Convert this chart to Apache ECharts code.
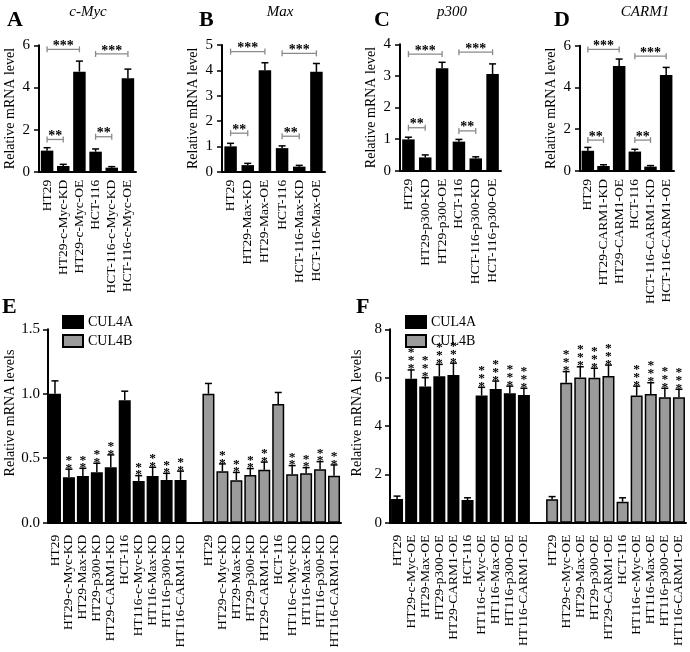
<!DOCTYPE html>
<html><head><meta charset="utf-8">
<script src="https://cdn.jsdelivr.net/npm/echarts@6/dist/echarts.min.js"></script>
<style>html,body{margin:0;padding:0;background:#fff}#c{width:690px;height:652px}</style>
</head><body><div id="c"></div>
<script>
const FONT = '"Liberation Serif","Times New Roman",serif';

// Panel A: c-Myc
const catA = ['HT29','HT29-c-Myc-KD','HT29-c-Myc-OE','HCT-116','HCT-116-c-Myc-KD','HCT-116-c-Myc-OE'];
const valA = [1.00,0.27,4.75,0.95,0.19,4.43];
const errA = [0.14,0.08,0.50,0.13,0.05,0.44];
const sigA = [[0,1,1.53,'**'],[0,2,5.81,'***'],[3,4,1.66,'**'],[3,5,5.59,'***']];
// Panel B: Max
const catB = ['HT29','HT29-Max-KD','HT29-Max-OE','HCT-116','HCT-116-Max-KD','HCT-116-Max-OE'];
const valB = [1.00,0.26,4.00,0.93,0.20,3.94];
const errB = [0.12,0.07,0.30,0.09,0.05,0.33];
const sigB = [[0,1,1.52,'**'],[0,2,4.74,'***'],[3,4,1.40,'**'],[3,5,4.67,'***']];
// Panel C: p300
const catC = ['HT29','HT29-p300-KD','HT29-p300-OE','HCT-116','HCT-116-p300-KD','HCT-116-p300-OE'];
const valC = [0.99,0.42,3.24,0.92,0.39,3.06];
const errC = [0.07,0.08,0.19,0.07,0.05,0.32];
const sigC = [[0,1,1.36,'**'],[0,2,3.69,'***'],[3,4,1.26,'**'],[3,5,3.75,'***']];
// Panel D: CARM1
const catD = ['HT29','HT29-CARM1-KD','HT29-CARM1-OE','HCT-116','HCT-116-CARM1-KD','HCT-116-CARM1-OE'];
const valD = [0.97,0.24,5.03,0.93,0.21,4.60];
const errD = [0.16,0.06,0.33,0.11,0.05,0.36];
const sigD = [[0,1,1.48,'**'],[0,2,5.82,'***'],[3,4,1.48,'**'],[3,5,5.50,'***']];

// Panel E: knock-down
const catE = ['HT29','HT29-c-Myc-KD','HT29-Max-KD','HT29-p300-KD','HT29-CARM1-KD','HCT-116','HT116-c-Myc-KD','HT116-Max-KD','HT116-p300-KD','HT116-CARM1-KD'];
const e4A = [1.00,0.352,0.363,0.391,0.430,0.95,0.324,0.363,0.332,0.332];
const e4Aerr = [0.10,0.063,0.059,0.070,0.096,0.07,0.041,0.067,0.051,0.068];
const e4B = [1.00,0.40,0.33,0.37,0.41,0.92,0.376,0.383,0.414,0.365];
const e4Berr = [0.08,0.056,0.06,0.05,0.06,0.09,0.067,0.044,0.06,0.083];
const starsE = ['','**','**','**','**','','**','**','**','**'];

// Panel F: over-expression
const catF = ['HT29','HT29-c-Myc-OE','HT29-Max-OE','HT29-p300-OE','HT29-CARM1-OE','HCT-116','HT116-c-Myc-OE','HT116-Max-OE','HT116-p300-OE','HT116-CARM1-OE'];
const f4A = [0.98,5.95,5.63,6.06,6.11,0.94,5.26,5.53,5.35,5.28];
const f4Aerr = [0.12,0.37,0.37,0.49,0.49,0.09,0.34,0.33,0.30,0.28];
const f4B = [0.97,5.79,6.01,6.00,6.07,0.87,5.26,5.32,5.19,5.19];
const f4Berr = [0.11,0.46,0.44,0.39,0.45,0.16,0.39,0.47,0.37,0.33];
const starsF = ['','***','***','***','***','','***','***','***','***'];

const GRAY = '#9b9b9b';

const panelsTop = [
  {cats:catA, vals:valA, errs:errA, sigs:sigA, max:6, interval:2, grid:{left:39, top:45.3, width:97, height:126.4}, nameGap:22},
  {cats:catB, vals:valB, errs:errB, sigs:sigB, max:5, interval:1, grid:{left:222, top:45, width:103, height:126.7}, nameGap:22},
  {cats:catC, vals:valC, errs:errC, sigs:sigC, max:4, interval:1, grid:{left:400, top:44.3, width:101, height:126.4}, nameGap:22},
  {cats:catD, vals:valD, errs:errD, sigs:sigD, max:6, interval:2, grid:{left:580, top:45.7, width:94, height:125.3}, nameGap:22}
];

function errRender(stars, starFont, lh) {
  return function (params, api) {
    const x = api.value(0), m = api.value(1), e = api.value(2);
    const p0 = api.coord([x, m]), p1 = api.coord([x, m + e]);
    const w = 3.5;
    const ch = [
      {type:'line', shape:{x1:p0[0], y1:p0[1], x2:p1[0], y2:p1[1]}, style:{stroke:'#000', lineWidth:1.5}},
      {type:'line', shape:{x1:p1[0]-w, y1:p1[1], x2:p1[0]+w, y2:p1[1]}, style:{stroke:'#000', lineWidth:1.5}}
    ];
    const s = stars ? stars[params.dataIndex] : '';
    if (s) {
      ch.push({type:'text', style:{text:s.split('').join('\n'), x:p1[0], y:p1[1]+3, align:'center', verticalAlign:'bottom',
        fontFamily:FONT, fontSize:starFont, fontWeight:'bold', lineHeight:lh, fill:'#000'}});
    }
    return {type:'group', children:ch};
  };
}
function bracketRender(sigs) {
  return function (params, api) {
    const s = sigs[params.dataIndex];
    const a = api.coord([s[0], s[2]]), b = api.coord([s[1], s[2]]);
    const t = 3;
    return {type:'group', children:[
      {type:'line', shape:{x1:a[0], y1:a[1], x2:b[0], y2:b[1]}, style:{stroke:'#8a8a8a', lineWidth:1.3}},
      {type:'line', shape:{x1:a[0], y1:a[1]-t, x2:a[0], y2:a[1]+t}, style:{stroke:'#8a8a8a', lineWidth:1.3}},
      {type:'line', shape:{x1:b[0], y1:b[1]-t, x2:b[0], y2:b[1]+t}, style:{stroke:'#8a8a8a', lineWidth:1.3}},
      {type:'text', style:{text:s[3], x:(a[0]+b[0])/2, y:a[1]+4, align:'center', verticalAlign:'bottom',
        fontFamily:FONT, fontSize:14, fontWeight:'bold', fill:'#000'}}
    ]};
  };
}

const grids = [], xAxes = [], yAxes = [], series = [];
const axisLineStyle = {lineStyle:{color:'#000', width:2}};
const yName = 'Relative mRNA level';

panelsTop.forEach((p, k) => {
  grids.push(p.grid);
  xAxes.push({type:'category', gridIndex:k, data:p.cats,
    axisLine:axisLineStyle, axisTick:{alignWithLabel:true, length:5, lineStyle:{color:'#000', width:1.5}},
    axisLabel:{rotate:90, interval:0, margin:8, fontFamily:FONT, fontSize:13.5, color:'#000'}});
  yAxes.push({type:'value', gridIndex:k, min:0, max:p.max, interval:p.interval,
    name:yName, nameLocation:'middle', nameGap:p.nameGap, nameTextStyle:{fontFamily:FONT, fontSize:14, color:'#000'},
    axisLine:Object.assign({show:true}, axisLineStyle), axisTick:{show:true, length:5, lineStyle:{color:'#000', width:1.5}},
    splitLine:{show:false}, axisLabel:{margin:9, fontFamily:FONT, fontSize:15, color:'#000'}});
  series.push({type:'bar', xAxisIndex:k, yAxisIndex:k, data:p.vals, barWidth:12.5, itemStyle:{color:'#000'}, silent:true});
  series.push({type:'custom', xAxisIndex:k, yAxisIndex:k, renderItem:errRender(null), data:p.vals.map((v,i)=>[i, v, p.errs[i]]), z:3});
  series.push({type:'custom', xAxisIndex:k, yAxisIndex:k, renderItem:bracketRender(p.sigs), data:p.sigs.map(s=>[s[0], s[2]]), z:4});
});

function bottomPanel(k, cats, a, aErr, b, bErr, stars, max, interval, grid, nameGap, fmt, starFont, lh) {
  const n = cats.length;
  const xData = cats.concat([''], cats);
  grids.push(grid);
  xAxes.push({type:'category', gridIndex:k, data:xData,
    axisLine:axisLineStyle, axisTick:{alignWithLabel:true, length:7, interval:(i, v) => v !== '', lineStyle:{color:'#000', width:1.5}},
    axisLabel:{rotate:90, interval:0, margin:12, fontFamily:FONT, fontSize:13.5, color:'#000'}});
  yAxes.push({type:'value', gridIndex:k, min:0, max:max, interval:interval,
    name:'Relative mRNA levels', nameLocation:'middle', nameGap:nameGap,
    nameTextStyle:{fontFamily:FONT, fontSize:14, color:'#000', padding:[0,0,0,26]},
    axisLine:Object.assign({show:true}, axisLineStyle), axisTick:{show:true, length:5, lineStyle:{color:'#000', width:1.5}},
    splitLine:{show:false}, axisLabel:{margin:8, fontFamily:FONT, fontSize:15, color:'#000', formatter:fmt}});
  const blanks = Array(n + 1).fill('-');
  series.push({name:'CUL4A', type:'bar', xAxisIndex:k, yAxisIndex:k, data:a.concat(blanks), barWidth:12, barGap:'-100%',
    itemStyle:{color:'#000', borderColor:'#000', borderWidth:1.5}});
  series.push({name:'CUL4B', type:'bar', xAxisIndex:k, yAxisIndex:k, data:blanks.concat(b), barWidth:12, barGap:'-100%',
    itemStyle:{color:GRAY, borderColor:'#000', borderWidth:1.5}});
  const ed = a.map((v,i)=>[i, v, aErr[i]]).concat(b.map((v,i)=>[i + n + 1, v, bErr[i]]));
  series.push({type:'custom', xAxisIndex:k, yAxisIndex:k, renderItem:errRender(stars.concat(stars), starFont, lh), data:ed, z:3});
}
bottomPanel(4, catE, e4A, e4Aerr, e4B, e4Berr, starsE, 1.5, 0.5, {left:48, top:329.3, width:293, height:193.4}, 30, v => v.toFixed(1), 13.5, 7.5);
bottomPanel(5, catF, f4A, f4Aerr, f4B, f4Berr, starsF, 8, 2, {left:390, top:329.3, width:296, height:193.4}, 26, null, 13.5, 8);

const legendCommon = {orient:'vertical', itemWidth:20, itemHeight:12, itemGap:5, icon:'rect', data:['CUL4A','CUL4B'],
  textStyle:{fontFamily:FONT, fontSize:14, color:'#000'}, padding:0, selectedMode:false};

const texts = [
  ['A', 7, 20], ['B', 199, 20], ['C', 374, 20], ['D', 554, 20],
  ['E', 2, 307], ['F', 356, 307]
];
const titles = [['c-Myc', 88, 12], ['Max', 280, 12], ['p300', 452, 12], ['CARM1', 645, 12]];
const graphic = texts.map(t => ({type:'text', x:t[1], y:t[2], style:{text:t[0], fontFamily:FONT, fontSize:22, fontWeight:'bold', fill:'#000', verticalAlign:'middle'}}))
  .concat(titles.map(t => ({type:'text', x:t[1], y:t[2], style:{text:t[0], fontFamily:FONT, fontSize:15, fontStyle:'italic', fill:'#000', align:'center', verticalAlign:'middle'}})));

const chart = echarts.init(document.getElementById('c'), null, {renderer:'canvas'});
chart.setOption({
  animation:false,
  backgroundColor:'#fff',
  grid:grids, xAxis:xAxes, yAxis:yAxes, series:series,
  legend:[Object.assign({left:62, top:315}, legendCommon), Object.assign({left:405, top:315}, legendCommon)],
  graphic:graphic
});
</script></body></html>
